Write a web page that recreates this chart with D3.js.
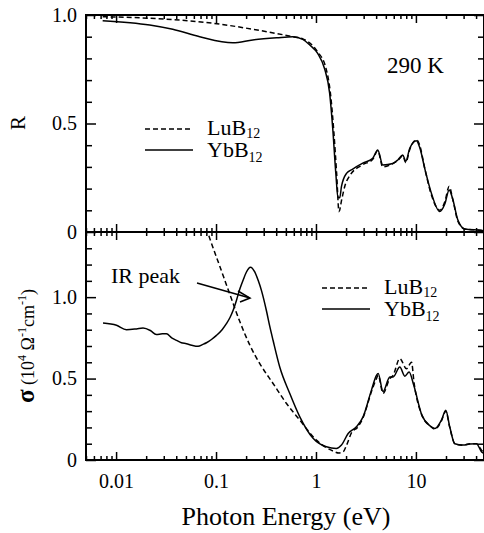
<!DOCTYPE html>
<html>
<head>
<meta charset="utf-8">
<script src="https://cdn.jsdelivr.net/npm/d3@7"></script>
<style>
  body { margin: 0; background: #fff; }
  .tick line { stroke: #000; stroke-width: 1.5px; }
  .tick text { font-size: 20px; fill: #000; }
</style>
</head>
<body>
<div id="chart"></div>
<script>
// reflectivity, YbB12 (solid)
const rEnergyYb = [0.00734, 0.0217, 0.0369, 0.0687, 0.147, 0.233, 0.405, 0.586, 0.738, 0.867, 1.04, 1.22, 1.37, 1.47, 1.58, 1.66, 1.73, 1.80, 2.02, 2.33, 2.94, 3.70, 4.15, 4.66, 5.87, 6.59, 7.39, 7.92, 8.68, 10.1, 10.9, 12.3, 14.3, 17.3, 19.5, 21.5, 23.4, 26.3, 30.8, 43.6, 48];
const rYb = [0.974, 0.954, 0.934, 0.900, 0.872, 0.885, 0.895, 0.900, 0.888, 0.862, 0.823, 0.752, 0.640, 0.480, 0.270, 0.160, 0.158, 0.210, 0.270, 0.290, 0.317, 0.340, 0.378, 0.309, 0.316, 0.332, 0.355, 0.326, 0.386, 0.420, 0.390, 0.290, 0.178, 0.094, 0.130, 0.194, 0.150, 0.055, 0.014, 0.008, 0.006];
// reflectivity, LuB12 (dashed)
const rEnergyLu = [0.00734, 0.0217, 0.0927, 0.321, 0.586, 0.738, 1.04, 1.25, 1.41, 1.51, 1.61, 1.70, 1.81, 1.94, 2.18, 2.94, 3.70, 4.15, 4.66, 5.87, 6.59, 7.39, 7.92, 8.68, 10.1, 10.9, 12.3, 14.3, 17.3, 19.5, 21.5, 23.4, 26.3, 30.8, 43.6, 48];
const rLu = [0.992, 0.985, 0.962, 0.923, 0.900, 0.890, 0.830, 0.760, 0.620, 0.460, 0.270, 0.094, 0.150, 0.210, 0.260, 0.310, 0.335, 0.375, 0.300, 0.315, 0.330, 0.350, 0.320, 0.380, 0.425, 0.400, 0.290, 0.170, 0.100, 0.140, 0.210, 0.150, 0.050, 0.014, 0.008, 0.006];

// optical conductivity, YbB12 (solid), 10^4 1/(Ohm cm)
const sEnergyYb = [0.0074, 0.0101, 0.0127, 0.016, 0.0186, 0.022, 0.0253, 0.029, 0.0319, 0.036, 0.0402, 0.045, 0.0506, 0.057, 0.0661, 0.074, 0.0802, 0.09, 0.101, 0.115, 0.127, 0.138, 0.148, 0.16, 0.173, 0.188, 0.201, 0.221, 0.244, 0.265, 0.285, 0.319, 0.345, 0.372, 0.434, 0.547, 0.689, 0.935, 1.27, 1.60, 1.80, 2.10, 2.54, 2.96, 3.59, 4.03, 4.19, 4.69, 5.48, 5.91, 6.90, 7.74, 8.55, 9.5, 11.4, 13.8, 15.5, 18.0, 19.9, 21.8, 24.5, 29.5, 34.7, 40.4, 45.4, 48];
const sYb = [0.841, 0.827, 0.800, 0.805, 0.810, 0.795, 0.770, 0.775, 0.775, 0.750, 0.735, 0.720, 0.714, 0.705, 0.698, 0.710, 0.720, 0.740, 0.765, 0.800, 0.837, 0.875, 0.918, 0.980, 1.050, 1.110, 1.153, 1.184, 1.155, 1.100, 1.040, 0.918, 0.820, 0.735, 0.571, 0.408, 0.265, 0.133, 0.081, 0.071, 0.092, 0.163, 0.204, 0.265, 0.429, 0.520, 0.531, 0.420, 0.510, 0.510, 0.571, 0.515, 0.540, 0.460, 0.280, 0.210, 0.194, 0.245, 0.306, 0.204, 0.100, 0.092, 0.098, 0.100, 0.050, 0.040];
// optical conductivity, LuB12 (dashed)
const sEnergyLu = [0.0754, 0.0866, 0.109, 0.137, 0.173, 0.218, 0.274, 0.372, 0.507, 0.689, 1.01, 1.48, 1.70, 1.87, 2.02, 2.28, 2.60, 2.96, 3.59, 4.03, 4.19, 4.69, 5.48, 5.91, 6.90, 8.05, 9.03, 9.6, 11.4, 13.8, 15.5, 18.0, 19.9, 21.8, 24.5, 29.5, 34.7, 40.4, 45.4, 48];
const sLu = [1.470, 1.360, 1.190, 1.020, 0.850, 0.705, 0.592, 0.470, 0.347, 0.245, 0.122, 0.055, 0.043, 0.050, 0.090, 0.170, 0.200, 0.260, 0.420, 0.500, 0.520, 0.410, 0.500, 0.520, 0.623, 0.560, 0.600, 0.470, 0.280, 0.210, 0.190, 0.240, 0.300, 0.200, 0.100, 0.090, 0.100, 0.100, 0.060, 0.050];

const xMajor = [0.01, 0.1, 1, 10];
const xMajorLabels = ["0.01", "0.1", "1", "10"];
const yMajor = [0, 0.5, 1.0];
const yMajorLabels = ["0", "0.5", "1.0"];

const FONT = "'Liberation Serif', 'DejaVu Serif', serif";
const width = 484, height = 533;
const left = 86, right = 484, top1 = 15, mid = 232, bottom2 = 460;

const svg = d3.select("#chart").append("svg")
    .attr("width", width)
    .attr("height", height)
    .attr("font-family", FONT);

// shared log x scale
const x = d3.scaleLog().domain([0.005, 48]).range([left, right]);
const yR = d3.scaleLinear().domain([0, 1]).range([mid, top1]);
const yS = d3.scaleLinear().domain([0, 1.4]).range([bottom2, mid]);

// minor ticks 2..9 per decade
let xMinor = [];
[0.001, 0.01, 0.1, 1, 10].forEach(dec => {
    for (let k = 2; k <= 9; k++) {
        let v = dec * k;
        if (v >= 0.005 && v <= 48) xMinor.push(v);
    }
});

// clip paths for each panel
const defs = svg.append("defs");
defs.append("clipPath").attr("id", "clipTop").append("rect")
    .attr("x", left).attr("y", top1).attr("width", right - left).attr("height", mid - top1);
defs.append("clipPath").attr("id", "clipBot").append("rect")
    .attr("x", left).attr("y", mid).attr("width", right - left).attr("height", bottom2 - mid);

// helper for x tick rows
function xTicks(y, values, size, labels) {
    let ax = d3.axisBottom(x).tickValues(values).tickSizeOuter(0).tickSize(size);
    if (labels) ax.tickFormat((d, i) => labels[i]).tickPadding(14);
    else ax.tickFormat("");
    let g = svg.append("g").attr("transform", `translate(0,${y})`).call(ax);
    g.attr("font-family", FONT);
    g.select(".domain").remove();
    return g;
}
// top frame: ticks down
xTicks(top1, xMajor, 8);
xTicks(top1, xMinor, 4);
// middle line: ticks both ways
xTicks(mid, xMajor, 8);
xTicks(mid, xMajor, -8);
xTicks(mid, xMinor, 4);
xTicks(mid, xMinor, -4);
// bottom: ticks up, with labels
xTicks(bottom2, xMajor, -8, xMajorLabels);
xTicks(bottom2, xMinor, -4);

// helper for y ticks on both sides
function yTicks(scale, minorVals) {
    let gl = svg.append("g").attr("transform", `translate(${left},0)`)
        .call(d3.axisLeft(scale).tickValues(yMajor).tickSize(-10).tickPadding(9)
            .tickFormat((d, i) => yMajorLabels[i]));
    gl.attr("font-family", FONT);
    gl.select(".domain").remove();
    let gm = svg.append("g").attr("transform", `translate(${left},0)`)
        .call(d3.axisLeft(scale).tickValues(minorVals).tickSize(-6).tickFormat(""));
    gm.select(".domain").remove();
    let gr = svg.append("g").attr("transform", `translate(${right},0)`)
        .call(d3.axisRight(scale).tickValues(yMajor).tickSize(-10).tickFormat(""));
    gr.select(".domain").remove();
    let gr2 = svg.append("g").attr("transform", `translate(${right},0)`)
        .call(d3.axisRight(scale).tickValues(minorVals).tickSize(-6).tickFormat(""));
    gr2.select(".domain").remove();
}
yTicks(yR, d3.range(1, 10).map(d => d / 10).filter(d => d !== 0.5));
yTicks(yS, d3.range(1, 14).map(d => d / 10).filter(d => d !== 0.5 && d !== 1.0));

// frames
svg.append("rect").attr("x", left).attr("y", top1).attr("width", right - left).attr("height", mid - top1)
    .attr("fill", "none").attr("stroke", "#000").attr("stroke-width", 2);
svg.append("rect").attr("x", left).attr("y", mid).attr("width", right - left).attr("height", bottom2 - mid)
    .attr("fill", "none").attr("stroke", "#000").attr("stroke-width", 2);

// curves
function curve(clip, scale, xs, ys, dashed) {
    let pts = xs.map((e, i) => [e, ys[i]]);
    let line = d3.line().x(d => x(d[0])).y(d => scale(d[1])).curve(d3.curveMonotoneX);
    svg.append("path")
        .attr("clip-path", `url(#${clip})`)
        .attr("d", line(pts))
        .attr("fill", "none")
        .attr("stroke", "#000")
        .attr("stroke-width", 1.5)
        .attr("stroke-dasharray", dashed ? "5,3" : null);
}
curve("clipTop", yR, rEnergyLu, rLu, true);
curve("clipTop", yR, rEnergyYb, rYb, false);
curve("clipBot", yS, sEnergyLu, sLu, true);
curve("clipBot", yS, sEnergyYb, sYb, false);

// legends
function legend(x0, y0) {
    svg.append("line").attr("x1", x0).attr("x2", x0 + 48).attr("y1", y0).attr("y2", y0)
        .attr("stroke", "#000").attr("stroke-width", 1.5).attr("stroke-dasharray", "5,3");
    svg.append("line").attr("x1", x0).attr("x2", x0 + 48).attr("y1", y0 + 21).attr("y2", y0 + 21)
        .attr("stroke", "#000").attr("stroke-width", 1.5);
    let t1 = svg.append("text").attr("x", x0 + 62).attr("y", y0 + 6).style("font-size", "22px");
    t1.append("tspan").text("LuB");
    t1.append("tspan").attr("dy", 3).style("font-size", "14px").text("12");
    let t2 = svg.append("text").attr("x", x0 + 62).attr("y", y0 + 28).style("font-size", "22px");
    t2.append("tspan").text("YbB");
    t2.append("tspan").attr("dy", 5).style("font-size", "14px").text("12");
}
legend(145, 129);
legend(322, 288);

// temperature label
svg.append("text").attr("x", 387).attr("y", 73).style("font-size", "23px").text("290 K");

// IR peak annotation
svg.append("text").attr("x", 111).attr("y", 283).style("font-size", "22px").text("IR peak");
svg.append("line").attr("x1", 197).attr("y1", 283).attr("x2", 250).attr("y2", 298)
    .attr("stroke", "#000").attr("stroke-width", 1.5);
svg.append("path").attr("d", "M238,291 L250,298 L240,302")
    .attr("fill", "none").attr("stroke", "#000").attr("stroke-width", 1.5);

// axis titles
svg.append("text").attr("transform", "translate(25,123) rotate(-90)")
    .attr("text-anchor", "middle").style("font-size", "21px").text("R");

let st = svg.append("text").attr("transform", "translate(34,346) rotate(-90)")
    .attr("text-anchor", "middle").style("font-size", "18px");
st.append("tspan").style("font-size", "25px").style("font-weight", "bold").text("σ");
st.append("tspan").text(" (10");
st.append("tspan").attr("dy", -8).style("font-size", "12px").text("4");
st.append("tspan").attr("dy", 8).text(" Ω");
st.append("tspan").attr("dy", -8).style("font-size", "12px").text("-1");
st.append("tspan").attr("dy", 8).text("cm");
st.append("tspan").attr("dy", -8).style("font-size", "12px").text("-1");
st.append("tspan").attr("dy", 8).text(")");

svg.append("text").attr("x", 286).attr("y", 525)
    .attr("text-anchor", "middle").style("font-size", "26px").text("Photon Energy (eV)");
</script>
</body>
</html>
